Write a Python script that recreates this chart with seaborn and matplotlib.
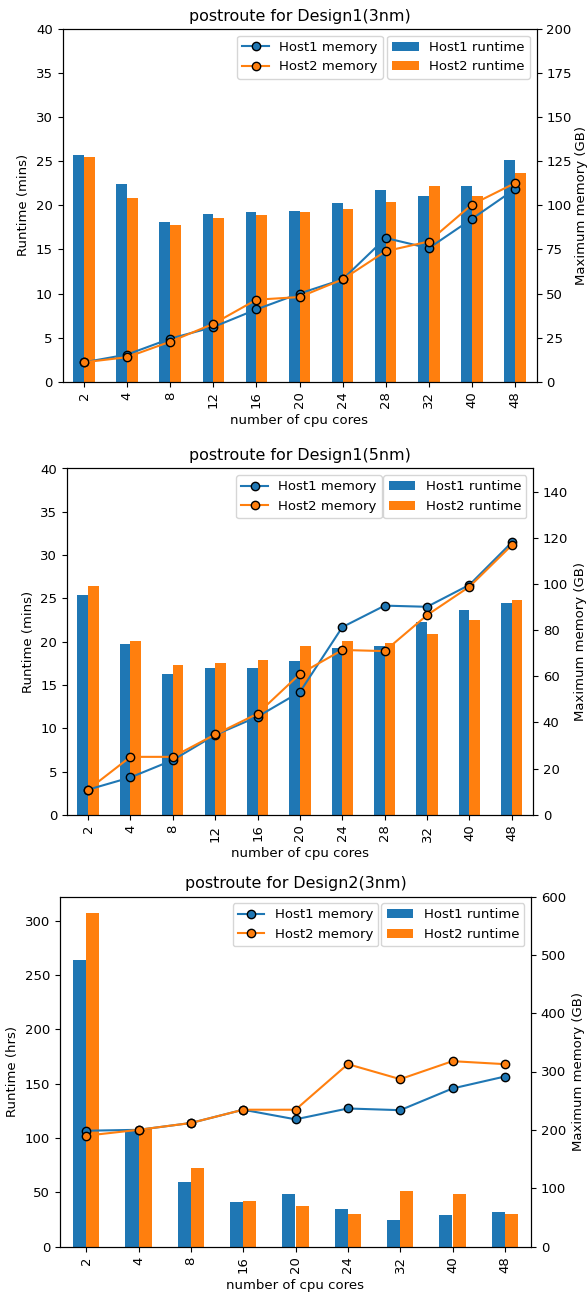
import matplotlib
matplotlib.use("Agg")
import matplotlib.pyplot as plt
import pandas as pd
import seaborn as sns

BLUE = "#1f77b4"
ORANGE = "#ff7f0e"

# postroute for Design1(3nm)
d1_3nm_cores = [2, 4, 8, 12, 16, 20, 24, 28, 32, 40, 48]
d1_3nm_host1_runtime = [25.7, 22.4, 18.1, 19.0, 19.2, 19.4, 20.3, 21.7, 21.1, 22.2, 25.1]
d1_3nm_host2_runtime = [25.5, 20.8, 17.8, 18.6, 18.9, 19.3, 19.6, 20.4, 22.2, 21.1, 23.7]
d1_3nm_host1_memory = [11.0, 15.4, 24.4, 31.0, 41.0, 50.0, 58.0, 81.5, 75.7, 92.3, 109.2]
d1_3nm_host2_memory = [11.0, 13.9, 22.7, 32.8, 46.5, 48.0, 58.0, 74.0, 79.5, 100.4, 112.6]

# postroute for Design1(5nm)
d1_5nm_cores = [2, 4, 8, 12, 16, 20, 24, 28, 32, 40, 48]
d1_5nm_host1_runtime = [25.4, 19.7, 16.25, 16.9, 16.9, 17.75, 19.3, 19.55, 22.3, 23.65, 24.45]
d1_5nm_host2_runtime = [26.45, 20.1, 17.3, 17.5, 17.85, 19.5, 20.1, 19.8, 20.85, 22.5, 24.85]
d1_5nm_host1_memory = [10.9, 16.2, 23.7, 34.6, 42.5, 53.2, 81.3, 90.6, 90.1, 99.6, 118.0]
d1_5nm_host2_memory = [10.9, 25.1, 25.1, 34.8, 43.8, 61.0, 71.4, 70.9, 86.5, 98.8, 116.8]

# postroute for Design2(3nm)
d2_3nm_cores = [2, 4, 8, 16, 20, 24, 32, 40, 48]
d2_3nm_host1_runtime = [264.2, 107.0, 59.8, 41.4, 48.4, 34.6, 24.5, 29.4, 31.8]
d2_3nm_host2_runtime = [307.0, 109.0, 72.0, 42.3, 37.1, 30.3, 51.1, 48.7, 30.3]
d2_3nm_host1_memory = [198.5, 200.0, 211.7, 234.5, 218.0, 236.6, 233.7, 270.9, 291.4]
d2_3nm_host2_memory = [190.0, 200.0, 211.7, 234.5, 234.5, 312.6, 286.9, 317.7, 312.6]

FIG_W, FIG_H = 587, 1293

plt.rcParams["font.size"] = 9.5


def axes_rect(left, right, top, bottom):
    return [left / FIG_W, 1 - bottom / FIG_H, (right - left) / FIG_W, (bottom - top) / FIG_H]


def long_frame(cores, host1, host2, kind):
    labels = [str(c) for c in cores]
    return pd.DataFrame({
        "cores": labels + labels,
        "value": list(host1) + list(host2),
        "host": [f"Host1 {kind}"] * len(cores) + [f"Host2 {kind}"] * len(cores),
    })


def draw_panel(ax, title, cores, h1_rt, h2_rt, h1_mem, h2_mem,
               rt_label, rt_ylim=None, mem_ylim=None, mem_labelpad=4.0):
    order = [str(c) for c in cores]
    rt = long_frame(cores, h1_rt, h2_rt, "runtime")
    mem = long_frame(cores, h1_mem, h2_mem, "memory")

    sns.barplot(data=rt, x="cores", y="value", hue="host", order=order,
                hue_order=["Host1 runtime", "Host2 runtime"],
                palette=[BLUE, ORANGE], width=0.5, saturation=1,
                errorbar=None, legend=False, ax=ax)
    if rt_ylim is not None:
        ax.set_ylim(*rt_ylim)
    ax.set_xlabel("number of cpu cores")
    ax.set_ylabel(rt_label)
    ax.set_title(title, fontsize=11.4)
    ax.tick_params(axis="x", rotation=90)

    ax2 = ax.twinx()
    sns.pointplot(data=mem, x="cores", y="value", hue="host", order=order,
                  hue_order=["Host1 memory", "Host2 memory"],
                  palette=[BLUE, ORANGE], errorbar=None, legend=False,
                  markers="o", linestyles="-", linewidth=1.5, markersize=6,
                  markeredgewidth=1.0, markeredgecolor="black", ax=ax2)
    if mem_ylim is not None:
        ax2.set_ylim(*mem_ylim)
    ax2.set_ylabel("Maximum memory (GB)", labelpad=mem_labelpad)
    ax2.set_xlim(-0.5, len(cores) - 0.5)

    bar_legend = ax2.legend(ax.containers[:2], ["Host1 runtime", "Host2 runtime"],
                            loc="upper right")
    ax2.add_artist(bar_legend)
    mem_lines = [ln for ln in ax2.lines if ln.get_marker() == "o"][:2]
    ax2.legend(mem_lines, ["Host1 memory", "Host2 memory"],
               loc="upper right", bbox_to_anchor=(0.69, 1.0))


fig = plt.figure(figsize=(FIG_W / 100, FIG_H / 100), dpi=100)

ax_a = fig.add_axes(axes_rect(62.5, 536.5, 29, 381.7))
draw_panel(ax_a, "postroute for Design1(3nm)", d1_3nm_cores,
           d1_3nm_host1_runtime, d1_3nm_host2_runtime,
           d1_3nm_host1_memory, d1_3nm_host2_memory,
           "Runtime (mins)", rt_ylim=(0, 40), mem_ylim=(0, 200), mem_labelpad=2.0)

ax_b = fig.add_axes(axes_rect(66.9, 533.0, 468.5, 814.8))
draw_panel(ax_b, "postroute for Design1(5nm)", d1_5nm_cores,
           d1_5nm_host1_runtime, d1_5nm_host2_runtime,
           d1_5nm_host1_memory, d1_5nm_host2_memory,
           "Runtime (mins)", rt_ylim=(0, 40), mem_ylim=(0, 150))

ax_c = fig.add_axes(axes_rect(60.0, 531.0, 896.5, 1246.5))
draw_panel(ax_c, "postroute for Design2(3nm)", d2_3nm_cores,
           d2_3nm_host1_runtime, d2_3nm_host2_runtime,
           d2_3nm_host1_memory, d2_3nm_host2_memory,
           "Runtime (hrs)", rt_ylim=None, mem_ylim=(0, 600))

fig.savefig("out.png", dpi=100)
